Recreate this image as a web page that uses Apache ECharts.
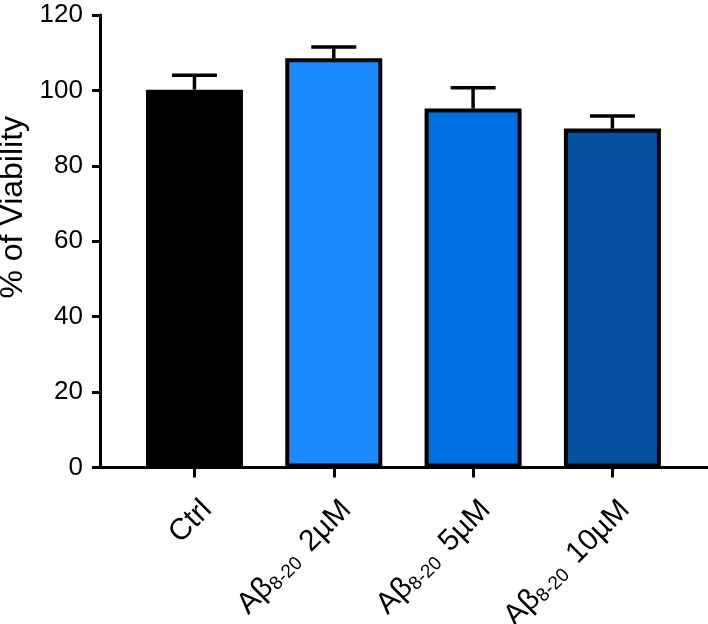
<!DOCTYPE html>
<html>
<head>
<meta charset="utf-8">
<script src="https://cdn.jsdelivr.net/npm/echarts@6/dist/echarts.min.js"></script>
<style>html,body{margin:0;padding:0;background:#fff}#c{width:708px;height:624px}</style>
</head>
<body>
<div id="c"></div>
<script>
const categories = ['Ctrl', 'Aβ8-20 2µM', 'Aβ8-20 5µM', 'Aβ8-20 10µM'];
const means = [100.2, 108.5, 95.2, 89.9];
const errors = [3.8, 3.0, 5.5, 3.3];
const barColors = ['#000000', '#1b8bff', '#0070e0', '#054f9e'];
const yTicks = [0, 20, 40, 60, 80, 100, 120];

const chart = echarts.init(document.getElementById('c'));
const positions = categories.map((_, i) => i);

function fmtLabel(v) {
  const name = categories[v];
  if (name === undefined) return '';
  const m = name.match(/^Aβ(\S+)\s+(.*)$/);
  if (!m) return '{a|' + name + '}';
  return '{a|Aβ}{s|' + m[1] + '}{g| }{a|' + m[2] + '}';
}

chart.setOption({
  animation: false,
  grid: { left: 100, right: 1, top: 15, bottom: 156.5, containLabel: false, outerBoundsMode: 'none' },
  xAxis: {
    type: 'value',
    min: -0.678,
    max: 3.679,
    splitLine: { show: false },
    axisLine: { show: true, onZero: false, lineStyle: { color: '#000', width: 3 } },
    axisTick: { show: true, customValues: positions, length: 10, lineStyle: { color: '#000', width: 3 } },
    axisLabel: {
      customValues: positions,
      rotate: 45,
      margin: 25,
      verticalAlign: 'top',
      lineHeight: 36,
      formatter: fmtLabel,
      rich: {
        a: { fontFamily: 'Liberation Sans, Arial', fontSize: 30, lineHeight: 36, color: '#000' },
        g: { fontFamily: 'Liberation Sans, Arial', fontSize: 30, lineHeight: 36, color: '#000', width: 13 },
        s: { fontFamily: 'Liberation Sans, Arial', fontSize: 19, lineHeight: 24, color: '#000', padding: [12, 0, 0, 0] }
      }
    }
  },
  yAxis: {
    type: 'value',
    min: 0,
    max: 120,
    interval: 20,
    name: '% of Viability',
    nameLocation: 'middle',
    nameGap: 69,
    nameTextStyle: { fontFamily: 'Liberation Sans, Arial', fontSize: 32, color: '#000', padding: [0, 0, 0, 68] },
    splitLine: { show: false },
    axisLine: { show: true, onZero: false, lineStyle: { color: '#000', width: 3 } },
    axisTick: { show: true, length: 8, lineStyle: { color: '#000', width: 3 } },
    axisLabel: {
      fontFamily: 'Liberation Sans, Arial', fontSize: 26, color: '#000', margin: 17,
      formatter: v => (yTicks.includes(v) ? String(v) : '')
    }
  },
  series: [
    {
      type: 'bar',
      barWidth: 97,
      z: 2,
      data: means.map((v, i) => ({
        value: [positions[i], v],
        itemStyle: { color: barColors[i], borderColor: '#000', borderWidth: 4 }
      }))
    },
    {
      type: 'custom',
      z: 3,
      data: means.map((v, i) => [positions[i], v, errors[i]]),
      renderItem: function (params, api) {
        const x = api.value(0), m = api.value(1), e = api.value(2);
        const base = api.coord([x, m]);
        const top = api.coord([x, m + e]);
        const half = 22.5;
        const style = { stroke: '#000', lineWidth: 3.5 };
        return {
          type: 'group',
          children: [
            { type: 'line', shape: { x1: base[0], y1: base[1], x2: top[0], y2: top[1] }, style: style },
            { type: 'line', shape: { x1: top[0] - half, y1: top[1], x2: top[0] + half, y2: top[1] }, style: style }
          ]
        };
      }
    }
  ]
});
</script>
</body>
</html>
